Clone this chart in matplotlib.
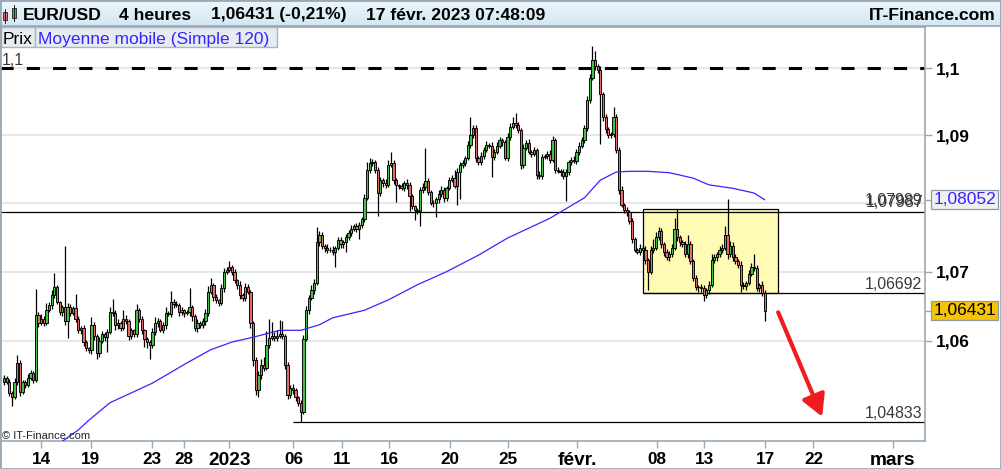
import numpy as np
import matplotlib
matplotlib.use("Agg")
import matplotlib.pyplot as plt
from matplotlib.patches import Rectangle
from matplotlib.transforms import blended_transform_factory
from matplotlib.ticker import NullLocator, NullFormatter

plt.rcParams['font.family'] = ['Liberation Sans', 'DejaVu Sans']

# --- Donnees : EUR/USD bougies 4 heures ---
premiere_ouverture = 1.0541
clotures = [
    1.0547, 1.0541, 1.0525, 1.0519, 1.0541, 1.0568, 1.0526, 1.0541, 1.0537, 1.0546,
    1.0553, 1.0544, 1.0637, 1.0626, 1.0632, 1.0626, 1.0644, 1.0651, 1.0666, 1.0678,
    1.0656, 1.0641, 1.0648, 1.0629, 1.0648, 1.0640, 1.0647, 1.0632, 1.0615, 1.0618,
    1.0598, 1.0589, 1.0586, 1.0622, 1.0607, 1.0582, 1.0600, 1.0610, 1.0606, 1.0612,
    1.0641, 1.0640, 1.0622, 1.0626, 1.0618, 1.0632, 1.0629, 1.0607, 1.0615, 1.0610,
    1.0644, 1.0632, 1.0615, 1.0603, 1.0598, 1.0594, 1.0612, 1.0626, 1.0629, 1.0615,
    1.0622, 1.0640, 1.0638, 1.0656, 1.0653, 1.0651, 1.0641, 1.0644, 1.0640, 1.0641,
    1.0648, 1.0635, 1.0618, 1.0626, 1.0622, 1.0629, 1.0640, 1.0671, 1.0681, 1.0663,
    1.0659, 1.0654, 1.0676, 1.0700, 1.0703, 1.0707, 1.0700, 1.0688, 1.0681, 1.0666,
    1.0662, 1.0678, 1.0671, 1.0625, 1.0572, 1.0529, 1.0550, 1.0565, 1.0561, 1.0594,
    1.0604, 1.0607, 1.0604, 1.0607, 1.0610, 1.0607, 1.0565, 1.0522, 1.0532, 1.0529,
    1.0519, 1.0511, 1.0498, 1.0603, 1.0644, 1.0662, 1.0673, 1.0684, 1.0743, 1.0754,
    1.0737, 1.0735, 1.0732, 1.0732, 1.0729, 1.0735, 1.0746, 1.0740, 1.0743, 1.0750,
    1.0757, 1.0762, 1.0766, 1.0762, 1.0768, 1.0777, 1.0808, 1.0849, 1.0859, 1.0861,
    1.0849, 1.0815, 1.0834, 1.0830, 1.0827, 1.0857, 1.0859, 1.0834, 1.0827, 1.0826,
    1.0823, 1.0830, 1.0827, 1.0810, 1.0796, 1.0790, 1.0788, 1.0820, 1.0824, 1.0832,
    1.0817, 1.0801, 1.0800, 1.0806, 1.0813, 1.0820, 1.0808, 1.0823, 1.0834, 1.0837,
    1.0826, 1.0846, 1.0857, 1.0859, 1.0867, 1.0886, 1.0901, 1.0911, 1.0867, 1.0861,
    1.0870, 1.0879, 1.0886, 1.0885, 1.0868, 1.0876, 1.0885, 1.0893, 1.0890, 1.0867,
    1.0898, 1.0913, 1.0919, 1.0916, 1.0908, 1.0857, 1.0882, 1.0889, 1.0876, 1.0873,
    1.0879, 1.0842, 1.0840, 1.0868, 1.0870, 1.0873, 1.0864, 1.0893, 1.0849, 1.0848,
    1.0846, 1.0840, 1.0846, 1.0861, 1.0864, 1.0862, 1.0876, 1.0885, 1.0893, 1.0911,
    1.0953, 1.0986, 1.1012, 1.1003, 1.0997, 1.0961, 1.0927, 1.0909, 1.0900, 1.0902,
    1.0927, 1.0879, 1.0820, 1.0798, 1.0790, 1.0787, 1.0774, 1.0747, 1.0732, 1.0729,
    1.0735, 1.0732, 1.0717, 1.0700, 1.0732, 1.0735, 1.0750, 1.0759, 1.0740, 1.0729,
    1.0721, 1.0725, 1.0735, 1.0762, 1.0750, 1.0743, 1.0740, 1.0725, 1.0741, 1.0715,
    1.0691, 1.0678, 1.0677, 1.0676, 1.0666, 1.0673, 1.0681, 1.0717, 1.0721, 1.0725,
    1.0732, 1.0735, 1.0754, 1.0725, 1.0738, 1.0721, 1.0715, 1.0710, 1.0681, 1.0679,
    1.0684, 1.0696, 1.0707, 1.0706, 1.0676, 1.0681, 1.0669, 1.06431,
]
# meches en pips au-dessus / au-dessous du corps
meche_haute = [
    3, 2, 4, 3, 5, 12, 4, 3, 2, 6,
    5, 3, 38, 4, 6, 3, 10, 5, 8, 20,
    3, 2, 4, 90, 6, 5, 3, 20, 4, 3,
    4, 3, 2, 12, 5, 3, 6, 4, 3, 5,
    8, 20, 4, 6, 3, 12, 5, 3, 4, 2,
    9, 3, 4, 2, 3, 3, 6, 8, 4, 3,
    5, 9, 3, 16, 4, 5, 3, 4, 2, 3,
    28, 4, 3, 5, 2, 4, 6, 8, 10, 3,
    4, 2, 6, 5, 4, 8, 3, 4, 2, 6,
    3, 5, 4, 2, 3, 4, 6, 8, 12, 20,
    27, 20, 6, 8, 20, 18, 3, 4, 5, 6,
    3, 2, 4, 5, 6, 4, 8, 5, 22, 6,
    4, 3, 5, 4, 6, 3, 5, 4, 3, 5,
    4, 6, 3, 5, 4, 3, 6, 12, 8, 4,
    3, 5, 4, 3, 5, 6, 16, 4, 3, 2,
    4, 3, 5, 4, 3, 2, 3, 4, 6, 50,
    5, 3, 4, 3, 6, 5, 4, 3, 5, 4,
    12, 6, 4, 5, 3, 6, 26, 5, 4, 3,
    5, 4, 6, 3, 5, 4, 6, 5, 4, 3,
    5, 6, 8, 15, 4, 3, 5, 4, 6, 3,
    4, 3, 5, 4, 3, 4, 5, 6, 3, 4,
    3, 4, 5, 3, 4, 5, 4, 6, 5, 4,
    5, 6, 21, 14, 4, 6, 3, 5, 4, 3,
    16, 5, 4, 6, 3, 4, 3, 5, 4, 3,
    5, 4, 6, 3, 5, 12, 8, 6, 4, 3,
    4, 5, 6, 16, 30, 4, 3, 5, 12, 4,
    3, 4, 3, 5, 4, 3, 6, 8, 5, 4,
    6, 5, 12, 52, 6, 5, 4, 3, 5, 4,
    3, 6, 5, 19, 4, 3, 5, 4,
]
meche_basse = [
    4, 3, 5, 12, 3, 4, 6, 3, 5, 4,
    3, 5, 4, 6, 3, 5, 4, 3, 5, 4,
    3, 4, 5, 6, 25, 4, 3, 5, 4, 6,
    5, 4, 3, 5, 6, 8, 5, 4, 6, 22,
    3, 4, 6, 5, 4, 3, 5, 6, 4, 5,
    4, 5, 6, 12, 8, 20, 5, 4, 6, 3,
    4, 5, 3, 4, 6, 3, 5, 4, 6, 3,
    5, 6, 4, 5, 3, 4, 6, 5, 4, 6,
    5, 4, 3, 5, 4, 3, 5, 4, 6, 5,
    4, 5, 3, 6, 8, 7, 10, 5, 4, 3,
    4, 3, 5, 4, 3, 5, 6, 5, 4, 6,
    5, 4, 15, 3, 4, 5, 3, 6, 4, 5,
    4, 6, 5, 4, 5, 22, 4, 5, 6, 15,
    4, 5, 3, 4, 15, 5, 4, 3, 5, 4,
    5, 34, 4, 6, 5, 3, 4, 6, 25, 5,
    4, 5, 6, 22, 5, 14, 4, 22, 5, 4,
    5, 4, 6, 20, 5, 4, 6, 5, 4, 3,
    4, 28, 40, 5, 4, 3, 5, 4, 6, 5,
    4, 5, 3, 4, 30, 5, 4, 3, 5, 4,
    5, 4, 3, 5, 4, 6, 5, 4, 3, 5,
    4, 6, 5, 4, 3, 5, 4, 3, 5, 4,
    6, 5, 37, 4, 5, 3, 4, 5, 3, 4,
    5, 4, 3, 5, 4, 74, 6, 5, 4, 3,
    4, 5, 6, 4, 5, 6, 4, 5, 4, 3,
    5, 4, 6, 27, 4, 5, 3, 4, 5, 6,
    4, 5, 3, 4, 6, 5, 4, 3, 5, 4,
    5, 4, 6, 5, 8, 4, 5, 3, 4, 5,
    4, 5, 3, 6, 4, 5, 4, 5, 10, 4,
    5, 4, 3, 5, 4, 6, 5, 14,
]

# moyenne mobile simple 120
mm_index = [22, 28, 32, 40, 56, 69, 78, 86, 94, 104, 112, 119, 124, 136, 145, 156,
            167, 179, 190, 206, 219, 225, 231, 236, 243, 251, 260, 266, 275, 283, 287]
mm_valeurs = [1.0456, 1.0472, 1.0486, 1.0511, 1.0539, 1.0568, 1.0587, 1.0598, 1.0605,
              1.0615, 1.0615, 1.0623, 1.0633, 1.0644, 1.0659, 1.0681, 1.0700, 1.0724,
              1.0749, 1.0778, 1.0808, 1.0834, 1.0846, 1.0847, 1.0847, 1.0845, 1.0837,
              1.0827, 1.0822, 1.0815, 1.08052]

dates_pos = [14.0, 32.7, 55.7, 68.0, 85.0, 109.2, 127.4, 145.4, 168.3, 190.2,
             216.2, 246.3, 264.2, 287.2, 305.4, 335.4]
dates_lab = ["14", "19", "23", "28", "2023", "06", "11", "16", "20", "25",
             "févr.", "08", "13", "17", "22", "mars"]
dates_gras = ["2023", "févr.", "mars"]

prix_ticks = [1.06, 1.06431, 1.07, 1.08052, 1.09, 1.10]
prix_lab = ["1,06", "", "1,07", "", "1,09", "1,1"]
grille = [1.06, 1.07, 1.08, 1.09, 1.10]

niveau_haut = 1.10
niveau_ligne = 1.0787
boite_haut = 1.0792
boite_bas = 1.06692
niveau_bas = 1.04833
boite_debut, boite_fin = 241.1, 292.1
support_debut = 109.1
fleche_depart = (292.1, 1.0641)
fleche_arrivee = (308.7, 1.0491)

VERT = "#40c440"
ROUGE = "#e26a6a"
GRIS = "#9aa8b4"
BLEU = "#3a22ff"

W, H = 1001, 469
def fx(px):
    return px / W
def fy(py):
    return 1 - py / H

# --- Figure ---
fig = plt.figure(figsize=(W / 100, H / 100), dpi=100)
fig.patch.set_facecolor("white")
ax = fig.add_axes([0, fy(441), fx(925), (441 - 27) / H])
ax.set_yscale("log")
ax.set_xlim(-1.51, 347.5)
ax.set_ylim(1.04564, 1.10620)
ax.set_facecolor("white")

for g in grille:
    ax.axhline(g, color="#e3e3e3", lw=1.2, zorder=0)

# --- Bougies ---
c = np.array(clotures)
o = np.array([premiere_ouverture] + clotures[:-1])
hauts = np.maximum(o, c) + np.array(meche_haute) / 10000
bas = np.minimum(o, c) - np.array(meche_basse) / 10000
x = np.arange(len(c))
hausse = c >= o

ax.add_patch(Rectangle((boite_debut, boite_bas), boite_fin - boite_debut, boite_haut - boite_bas,
                       facecolor="#fffbb5", edgecolor="black", lw=0.9, zorder=1))
ax.vlines(x, bas, hauts, color="black", lw=0.9, zorder=3)
ax.bar(x[hausse], c[hausse] - o[hausse], bottom=o[hausse], width=0.85,
       color=VERT, edgecolor="black", lw=0.65, zorder=4)
ax.bar(x[~hausse], o[~hausse] - c[~hausse], bottom=c[~hausse], width=0.85,
       color=ROUGE, edgecolor="black", lw=0.65, zorder=4)

ax.plot(mm_index, mm_valeurs, color=BLEU, lw=0.9, zorder=5)

# --- Lignes tracees ---
xmax = ax.get_xlim()[1]
ax.plot([-1.51, xmax], [niveau_haut, niveau_haut], color="black", lw=2.2,
        dashes=(4.3, 4.3), zorder=2)
ax.axhline(niveau_ligne, color="black", lw=0.9, zorder=2)
ax.hlines(boite_bas, boite_debut, xmax, color="black", lw=0.9, zorder=2)
ax.hlines(niveau_bas, support_debut, xmax, color="black", lw=0.9, zorder=2)

ax.annotate("", xy=fleche_arrivee, xytext=fleche_depart,
            arrowprops=dict(arrowstyle="-|>,head_length=0.65,head_width=0.36",
                            color="#ee1c1c", lw=3, mutation_scale=20,
                            shrinkA=0, shrinkB=0), zorder=6)

trans = blended_transform_factory(ax.transAxes, ax.transData)
def etiquette(texte, niveau, dy, xa=0.997, ha="right"):
    ax.annotate(texte, xy=(xa, niveau), xycoords=trans, xytext=(0, dy),
                textcoords="offset points", ha=ha, va="baseline",
                fontsize=11.4, color="#3a3a3a", zorder=7)

etiquette("1,07989", boite_haut, 2.4)
etiquette("1,07987", niveau_ligne, 3.4, xa=0.9985)
etiquette("1,06692", boite_bas, 2.6)
etiquette("1,04833", niveau_bas, 3.3)
etiquette("1,1", niveau_haut, 2.4, xa=0.002, ha="left")

# --- Axes ---
for s in ax.spines.values():
    s.set_color(GRIS)
    s.set_linewidth(1.2)

ax.yaxis.tick_right()
ax.set_yticks(prix_ticks, prix_lab)
ax.yaxis.set_minor_locator(NullLocator())
ax.yaxis.set_minor_formatter(NullFormatter())
ax.tick_params(axis="y", which="major", length=5, width=1, color=GRIS, pad=3,
               labelsize=12.5)
for t in ax.get_yticklabels():
    t.set_fontweight("bold")

ax.set_xticks(dates_pos, dates_lab)
ax.tick_params(axis="x", length=5, width=1, color=GRIS, pad=3, labelsize=12.3)
for t in ax.get_xticklabels():
    t.set_fontweight("bold")
    if t.get_text() in dates_gras:
        t.set_fontsize(13.8)

# etiquettes de prix a droite
ax.text(1.0088, 1.08052, "1,08052", transform=trans, ha="left", va="center",
        fontsize=12.5, color=BLEU, clip_on=False,
        bbox=dict(boxstyle="square,pad=0.12", fc="#eef1f4", ec="#8d9ba6", lw=0.9))
ax.text(1.0088, 1.06431, "1,06431", transform=trans, ha="left", va="center",
        fontsize=12.5, color="black", clip_on=False,
        bbox=dict(boxstyle="square,pad=0.12", fc="#f6c400", ec="#8d9ba6", lw=0.9))

# --- Bandeau du haut ---
bandeau = fig.add_axes([0, fy(26), 1, 26 / H])
degrade = np.linspace(0, 1, 50).reshape(-1, 1)
bandeau.imshow(degrade, aspect="auto", cmap=matplotlib.colors.LinearSegmentedColormap.from_list(
    "bandeau", ["#edf7fc", "#d3e7f2"]), extent=[0, 1, 0, 1])
bandeau.set_axis_off()
fig.add_artist(Rectangle((0, fy(26.5)), 1, 26.5 / H, transform=fig.transFigure,
                         fill=False, ec=GRIS, lw=1.2))

# petite icone de bougies
fig.add_artist(plt.Line2D([fx(5), fx(5)], [fy(9), fy(23)], transform=fig.transFigure,
                          color="black", lw=0.6))
fig.add_artist(Rectangle((fx(3), fy(20)), 4 / W, 8 / H, transform=fig.transFigure,
                         fc=ROUGE, ec="black", lw=0.5))
fig.add_artist(plt.Line2D([fx(13.5), fx(13.5)], [fy(5), fy(21)], transform=fig.transFigure,
                          color="black", lw=0.6))
fig.add_artist(Rectangle((fx(11.5), fy(18)), 4 / W, 10 / H, transform=fig.transFigure,
                         fc=VERT, ec="black", lw=0.5))

entete = dict(fontsize=12.6, fontweight="bold", va="baseline", color="black")
fig.text(fx(23), fy(19.5), "EUR/USD", **entete)
fig.text(fx(119), fy(19.5), "4 heures", **entete)
fig.text(fx(211), fy(19.5), "1,06431 (-0,21%)", **entete)
fig.text(fx(366), fy(19.5), "17 févr. 2023 07:48:09", **entete)
fig.text(fx(996), fy(19.5), "IT-Finance.com", ha="right", **entete)

# legende
fig.add_artist(Rectangle((fx(0.5), fy(47)), 34 / W, 20 / H, transform=fig.transFigure,
                         fc="#e7ecf0", ec="#a9b6c0", lw=1))
fig.add_artist(Rectangle((fx(35), fy(47)), 242 / W, 20 / H, transform=fig.transFigure,
                         fc="#e7ecf0", ec="#a9b6c0", lw=1))
fig.text(fx(3), fy(44), "Prix", fontsize=12.5, color="black", va="baseline")
fig.text(fx(38), fy(44), "Moyenne mobile (Simple 120)", fontsize=12.5, color=BLEU,
         va="baseline")

fig.text(fx(2), fy(438.5), "© IT-Finance.com", fontsize=8, color="#222222", va="baseline")

fig.add_artist(Rectangle((0, 0), 1, 1, transform=fig.transFigure, fill=False,
                         ec=GRIS, lw=2))

fig.savefig("out.png", dpi=100)
